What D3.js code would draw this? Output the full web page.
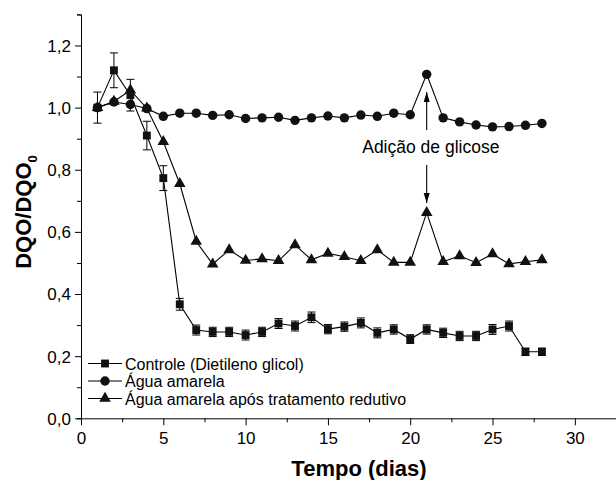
<!DOCTYPE html>
<html>
<head>
<meta charset="utf-8">
<script src="https://cdn.jsdelivr.net/npm/d3@7"></script>
<style>
  body { margin: 0; background: #fff; }
  svg { font-family: "Liberation Sans", Arial, sans-serif; }
</style>
</head>
<body>
<svg id="chart" width="616" height="480"></svg>
<script>
// days 1..28
var days = d3.range(1, 29);

var controle = [1.00, 1.12, 1.04, 0.91, 0.773, 0.367, 0.284, 0.278, 0.278, 0.268, 0.278, 0.305, 0.297, 0.325,
                0.287, 0.295, 0.307, 0.275, 0.286, 0.255, 0.286, 0.275, 0.265, 0.265, 0.286, 0.297, 0.214, 0.214];
var controleErr = [0.05, 0.056, 0.051, 0.046, 0.04, 0.019, 0.016, 0.015, 0.015, 0.016, 0.015, 0.016, 0.016, 0.017,
                   0.015, 0.015, 0.016, 0.016, 0.015, 0.014, 0.015, 0.015, 0.015, 0.015, 0.016, 0.016, 0.012, 0.012];
var aguaAmarela = [1.00, 1.018, 1.01, 0.997, 0.972, 0.982, 0.982, 0.975, 0.977, 0.965, 0.967, 0.969, 0.959, 0.967,
                   0.973, 0.967, 0.976, 0.972, 0.982, 0.977, 1.107, 0.967, 0.954, 0.944, 0.938, 0.939, 0.943, 0.949];
var aposTratamento = [1.00, 1.02, 1.056, 0.998, 0.89, 0.755, 0.569, 0.496, 0.542, 0.508, 0.513, 0.507, 0.558, 0.51,
                      0.531, 0.52, 0.507, 0.542, 0.502, 0.502, 0.662, 0.504, 0.523, 0.501, 0.529, 0.497, 0.504, 0.51];

var seriesNames = ["Controle (Dietileno glicol)", "Água amarela", "Água amarela após tratamento redutivo"];
var xTicks = [0, 5, 10, 15, 20, 25, 30];
var yTicks = [0, 0.2, 0.4, 0.6, 0.8, 1.0, 1.2];

var svg = d3.select("#chart");

var x = d3.scaleLinear().domain([0, 32.5]).range([81, 616]);
var y = d3.scaleLinear().domain([0, 1.3]).range([418.3, 14.4]);

var fmt = function(d) { return d3.format(".1f")(d).replace(".", ","); };

// axes
var xAxis = svg.append("g").attr("transform", "translate(0,418.3)");
xAxis.call(d3.axisBottom(x).tickValues(d3.range(0, 32.6, 2.5)).tickSize(4).tickFormat(""));
xAxis.call(function(g) {
  g.selectAll(".tick").filter(function(d) { return d % 5 === 0; })
    .select("line").attr("y2", 7);
  g.selectAll(".tick").filter(function(d) { return d % 5 === 0; })
    .append("text").attr("y", 26).attr("fill", "#000")
    .attr("text-anchor", "middle")
    .style("font-size", "17px")
    .text(function(d) { return d; });
});

var yAxis = svg.append("g").attr("transform", "translate(81,0)");
yAxis.call(d3.axisLeft(y).tickValues(d3.range(0, 1.31, 0.1)).tickSize(4).tickFormat(""));
yAxis.call(function(g) {
  var major = g.selectAll(".tick").filter(function(d) { return Math.abs(Math.round(d * 10) % 2) === 0; });
  major.select("line").attr("x2", -6);
  major.filter(function(d) { return d < 1.25; })
    .append("text").attr("x", -10).attr("dy", "0.35em").attr("fill", "#000")
    .attr("text-anchor", "end")
    .style("font-size", "17px")
    .text(function(d) { return fmt(d); });
});
svg.selectAll(".domain").attr("stroke", "#000");
svg.selectAll(".tick line").attr("stroke", "#000");

// axis titles
svg.append("text")
  .attr("x", 359).attr("y", 476)
  .attr("text-anchor", "middle")
  .style("font-size", "22px").style("font-weight", "bold")
  .text("Tempo (dias)");

var yTitle = svg.append("text")
  .attr("transform", "translate(31,212) rotate(-90)")
  .attr("text-anchor", "middle")
  .style("font-size", "22px").style("font-weight", "bold");
yTitle.append("tspan").text("DQO/DQO");
yTitle.append("tspan").attr("dy", 6).style("font-size", "13px").text("0");

var line = d3.line()
  .x(function(d, i) { return x(days[i]); })
  .y(function(d) { return y(d); });

function drawLine(values) {
  svg.append("path").datum(values)
    .attr("d", line)
    .attr("fill", "none")
    .attr("stroke", "#000")
    .attr("stroke-width", 1.1);
}

drawLine(controle);
drawLine(aguaAmarela);
drawLine(aposTratamento);

// error bars for controle
var err = svg.append("g").attr("stroke", "#000").attr("stroke-width", 1);
controle.forEach(function(v, i) {
  var cx = x(days[i]);
  var top = y(v + controleErr[i]), bot = y(v - controleErr[i]);
  err.append("line").attr("x1", cx).attr("x2", cx).attr("y1", top).attr("y2", bot);
  err.append("line").attr("x1", cx - 4).attr("x2", cx + 4).attr("y1", top).attr("y2", top);
  err.append("line").attr("x1", cx - 4).attr("x2", cx + 4).attr("y1", bot).attr("y2", bot);
});

var square = d3.symbol().type(d3.symbolSquare).size(62);
var circle = d3.symbol().type(d3.symbolCircle).size(70);
var triangle = d3.symbol().type(d3.symbolTriangle).size(58);

function drawMarks(values, sym) {
  svg.append("g").selectAll("path").data(values).join("path")
    .attr("transform", function(d, i) { return "translate(" + x(days[i]) + "," + y(d) + ")"; })
    .attr("d", sym)
    .attr("fill", "#111");
}

drawMarks(aposTratamento, triangle);
drawMarks(aguaAmarela, circle);
drawMarks(controle, square);

// annotation
function arrow(x0, y0, y1) {
  var px = x(x0), pa = y(y0), pb = y(y1);
  svg.append("line").attr("x1", px).attr("x2", px).attr("y1", pa).attr("y2", pb)
    .attr("stroke", "#000").attr("stroke-width", 1.1);
  var dir = pb < pa ? 1 : -1;
  svg.append("path")
    .attr("d", "M" + px + "," + pb + "L" + (px - 3) + "," + (pb + dir * 10) + "L" + (px + 3) + "," + (pb + dir * 10) + "Z")
    .attr("fill", "#000");
}
arrow(21, 0.928, 1.05);
arrow(21, 0.815, 0.693);

svg.append("text")
  .attr("x", x(21.25)).attr("y", y(0.853))
  .attr("text-anchor", "middle")
  .style("font-size", "17.5px")
  .text("Adição de glicose");

// legend
var legendSyms = [square, circle, triangle];
var legend = svg.append("g");
seriesNames.forEach(function(name, i) {
  var cy = 363.5 + i * 17.5;
  legend.append("line").attr("x1", 88).attr("x2", 122).attr("y1", cy).attr("y2", cy)
    .attr("stroke", "#000").attr("stroke-width", 1.1);
  legend.append("path").attr("transform", "translate(105," + cy + ")")
    .attr("d", legendSyms[i]).attr("fill", "#111");
  legend.append("text").attr("x", 125).attr("y", cy + 6)
    .style("font-size", "16px")
    .text(name);
});
</script>
</body>
</html>
